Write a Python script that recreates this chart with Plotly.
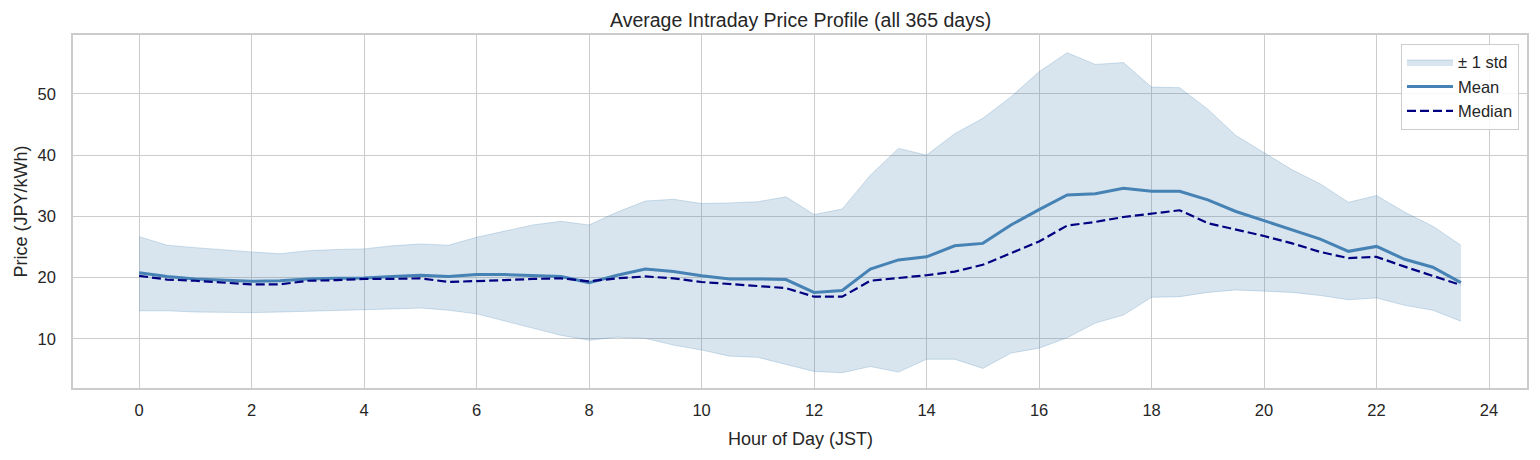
import plotly.graph_objects as go

hours = [0.0, 0.5, 1.0, 1.5, 2.0, 2.5, 3.0, 3.5, 4.0, 4.5, 5.0, 5.5,
         6.0, 6.5, 7.0, 7.5, 8.0, 8.5, 9.0, 9.5, 10.0, 10.5, 11.0, 11.5,
         12.0, 12.5, 13.0, 13.5, 14.0, 14.5, 15.0, 15.5, 16.0, 16.5, 17.0, 17.5,
         18.0, 18.5, 19.0, 19.5, 20.0, 20.5, 21.0, 21.5, 22.0, 22.5, 23.0, 23.5]

mean_price = [20.8, 20.2, 19.8, 19.6, 19.4, 19.5, 19.8, 19.9, 19.95, 20.2, 20.4, 20.2,
              20.5, 20.5, 20.4, 20.2, 19.2, 20.4, 21.4, 21.0, 20.3, 19.8, 19.8, 19.7,
              17.6, 17.9, 21.4, 22.9, 23.4, 25.2, 25.6, 28.6, 31.1, 33.5, 33.7, 34.6,
              34.1, 34.1, 32.7, 30.8, 29.3, 27.8, 26.3, 24.3, 25.1, 23.0, 21.7, 19.2]

median_price = [20.3, 19.7, 19.5, 19.2, 18.9, 18.9, 19.5, 19.6, 19.8, 19.8, 19.9, 19.3,
                19.4, 19.6, 19.8, 19.9, 19.4, 19.9, 20.2, 19.9, 19.3, 19.0, 18.6, 18.3,
                16.9, 16.9, 19.5, 19.9, 20.4, 21.0, 22.1, 24.0, 25.9, 28.5, 29.1, 29.9,
                30.4, 31.0, 28.9, 27.9, 26.8, 25.6, 24.2, 23.2, 23.4, 21.8, 20.3, 18.8]

std_upper = [26.7, 25.3, 24.9, 24.5, 24.2, 23.9, 24.4, 24.6, 24.7, 25.2, 25.5, 25.3,
             26.6, 27.6, 28.6, 29.2, 28.6, 30.7, 32.5, 32.8, 32.1, 32.2, 32.4, 33.2,
             30.3, 31.2, 36.7, 41.1, 40.0, 43.5, 46.0, 49.5, 53.6, 56.7, 54.8, 55.1,
             51.1, 51.0, 47.5, 43.2, 40.4, 37.6, 35.3, 32.3, 33.4, 30.7, 28.4, 25.3]

std_lower = [14.6, 14.6, 14.4, 14.3, 14.3, 14.4, 14.5, 14.6, 14.7, 14.9, 15.05, 14.7,
             14.1, 12.9, 11.7, 10.6, 9.8, 10.3, 10.1, 9.0, 8.2, 7.2, 7.0, 5.8,
             4.7, 4.5, 5.5, 4.6, 6.7, 6.7, 5.2, 7.7, 8.5, 10.2, 12.6, 13.9,
             16.8, 16.9, 17.6, 18.0, 17.8, 17.6, 17.1, 16.4, 16.7, 15.5, 14.7, 12.9]

x_ticks = [0, 2, 4, 6, 8, 10, 12, 14, 16, 18, 20, 22, 24]
y_ticks = [10, 20, 30, 40, 50]

FONT = "Liberation Sans, Arial, sans-serif"
GRID = "#cccccc"
TXT = "#262626"

fig = go.Figure()
fig.add_trace(go.Scatter(x=hours, y=std_lower, mode="lines",
                         line=dict(color="rgba(70,130,180,0.25)", width=1),
                         showlegend=False, hoverinfo="skip", legendgroup="band"))
fig.add_trace(go.Scatter(x=hours, y=std_upper, mode="lines", fill="tonexty",
                         fillcolor="rgba(70,130,180,0.21)",
                         line=dict(color="rgba(70,130,180,0.25)", width=1),
                         name="± 1 std", legendgroup="band"))
fig.add_trace(go.Scatter(x=hours, y=mean_price, mode="lines",
                         line=dict(color="#4682B4", width=3), name="Mean",
                         legendgroup="mean"))
fig.add_trace(go.Scatter(x=hours, y=median_price, mode="lines",
                         line=dict(color="#000080", width=2.2, dash="9px,4px"),
                         name="Median", legendgroup="median"))

fig.update_layout(
    width=1540, height=460,
    margin=dict(l=65, r=21, t=27, b=80),
    paper_bgcolor="white", plot_bgcolor="white",
    font=dict(family=FONT, size=16.5, color=TXT),
    legend=dict(x=0.9945, y=0.975, xanchor="right", yanchor="top",
                bgcolor="rgba(255,255,255,0.85)", bordercolor=GRID, borderwidth=1,
                font=dict(size=16.5, color=TXT), traceorder="normal",
                tracegroupgap=9, itemwidth=46),
    showlegend=True,
    annotations=[
        dict(text="Average Intraday Price Profile (all 365 days)",
             xref="paper", yref="paper", x=0.5, y=1, xanchor="center",
             yanchor="middle", yshift=15, showarrow=False,
             font=dict(size=19.5, color=TXT)),
        dict(text="Hour of Day (JST)", xref="paper", yref="paper", x=0.5, y=0,
             xanchor="center", yanchor="middle", yshift=-51, showarrow=False,
             font=dict(size=18, color=TXT)),
        dict(text="Price (JPY/kWh)", xref="paper", yref="paper", x=0, y=0.5,
             xanchor="center", yanchor="middle", xshift=-53, textangle=-90,
             showarrow=False, font=dict(size=18, color=TXT)),
    ],
)
fig.update_xaxes(range=[-1.175, 24.675], tickvals=x_ticks, showgrid=True,
                 gridcolor=GRID, gridwidth=1.2, zeroline=False, automargin=False,
                 showline=True, linecolor=GRID, linewidth=1.6, mirror=True,
                 ticks="", ticklabelstandoff=6)
fig.update_yaxes(range=[2.0, 59.6], tickvals=y_ticks, showgrid=True,
                 gridcolor=GRID, gridwidth=1.2, zeroline=False, automargin=False,
                 showline=True, linecolor=GRID, linewidth=1.6, mirror=True,
                 ticks="", ticklabelstandoff=12)

fig.write_html("out.html")
